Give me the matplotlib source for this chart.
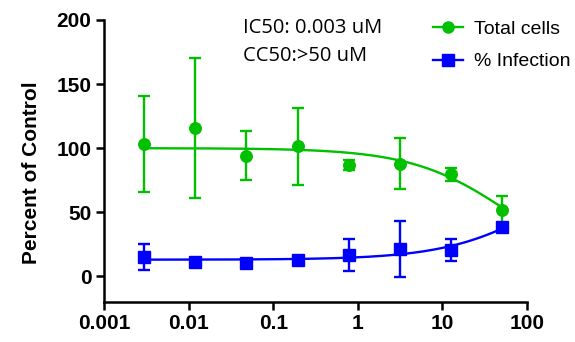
import numpy as np
import matplotlib
matplotlib.use("Agg")
import matplotlib.pyplot as plt
from matplotlib.lines import Line2D

# concentrations (uM), 4-fold dilution series
conc = [0.003, 0.012, 0.048, 0.195, 0.78, 3.125, 12.5, 50]

# Total cells (% of control) with SD
cells = [103, 116, 94, 101.6, 86.7, 88, 79.7, 52]
cells_err = [37.5, 54.5, 19, 30, 4, 20, 5, 10.5]

# % Infection with SD
infect = [15, 11.5, 10.8, 13, 16.4, 21, 20.3, 38.5]
infect_err = [10.2, 1, 1, 1, 12.4, 21.8, 8.5, 1]

# four-parameter logistic fit parameters (bottom, top, EC50, hill)
cells_fit = (0, 100, 62, -0.75)
infect_fit = (13, 100, 186, 0.73)

GREEN = "#00C000"
BLUE = "#0000FF"


def four_pl(x, bottom, top, ec50, hill):
    return bottom + (top - bottom) / (1 + (ec50 / x) ** hill)


plt.rcParams['font.family'] = ['Liberation Sans', 'DejaVu Sans']

fig = plt.figure(figsize=(5.75, 3.42), dpi=100)
ax = fig.add_axes([0.181, 0.117, 0.7357, 0.8246])

xs = np.logspace(np.log10(conc[0]), np.log10(conc[-1]), 200)
ax.plot(xs, four_pl(xs, *cells_fit), color=GREEN, lw=1.7, zorder=2)
ax.plot(xs, four_pl(xs, *infect_fit), color=BLUE, lw=1.7, zorder=2)

ax.errorbar(conc, cells, yerr=cells_err, fmt='o', color=GREEN, ms=8.3,
            elinewidth=1.7, capsize=4, capthick=1.7, zorder=3)
ax.errorbar(conc, infect, yerr=infect_err, fmt='s', color=BLUE, ms=8,
            elinewidth=1.7, capsize=4, capthick=1.7, zorder=3)

ax.set_xscale('log')
ax.set_xlim(0.001, 100)
ax.set_ylim(-20, 200)
ax.set_yticks([0, 50, 100, 150, 200])
ax.set_xticks([0.001, 0.01, 0.1, 1, 10, 100])
ax.set_xticklabels(['0.001', '0.01', '0.1', '1', '10', '100'])
ax.minorticks_off()

for s in ['top', 'right']:
    ax.spines[s].set_visible(False)
for s in ['left', 'bottom']:
    ax.spines[s].set_linewidth(1.8)
ax.tick_params(width=1.8, length=6, labelsize=15, pad=3)
for lab in ax.get_xticklabels() + ax.get_yticklabels():
    lab.set_fontweight('bold')

ax.set_ylabel('Percent of Control', fontsize=15, fontweight='bold')
ax.yaxis.set_label_coords(-0.149, 0.457)

ax.text(0.329, 0.971, 'IC50: 0.003 uM', transform=ax.transAxes,
        fontsize=14.5, va='center', family=['Open Sans', 'DejaVu Sans'])
ax.text(0.329, 0.874, 'CC50:>50 uM', transform=ax.transAxes,
        fontsize=14.5, va='center', family=['Open Sans', 'DejaVu Sans'])

handles = [Line2D([], [], color=GREEN, marker='o', ms=8, lw=1.7),
           Line2D([], [], color=BLUE, marker='s', ms=8, lw=1.7)]
leg = ax.legend(handles, ['Total cells', '% Infection'], loc='upper left',
                bbox_to_anchor=(0.737, 1.06), frameon=False, fontsize=14,
                handlelength=1.5, handletextpad=0.6, labelspacing=0.75)

fig.savefig('out.png', dpi=100)
